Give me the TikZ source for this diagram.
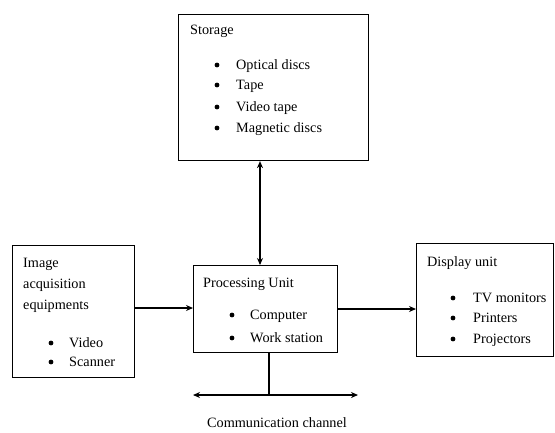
\documentclass[tikz,border=0pt]{standalone}
\usepackage{fontspec}
\setmainfont{Liberation Serif}
\usetikzlibrary{arrows.meta}
\begin{document}
\begin{tikzpicture}[x=1bp,y=-1bp,
  box/.style={draw,line width=1.1bp,inner sep=0pt,anchor=north west},
  txt/.style={anchor=base west,inner sep=0pt,font=\fontsize{14.3}{17}\selectfont},
  bul/.style={circle,fill,inner sep=0pt,minimum size=4.8bp},
  conn/.style={line width=1.1bp,-{Stealth[length=7bp,width=6bp]}},
  dconn/.style={line width=1.1bp,{Stealth[length=7bp,width=6bp]}-{Stealth[length=7bp,width=6bp]}}]
\useasboundingbox (0,0) rectangle (555,432);
% boxes
\node[box,minimum width=190bp,minimum height=146bp] (st) at (178,14) {};
\node[box,minimum width=122bp,minimum height=132bp] (im) at (12,245) {};
\node[box,minimum width=144bp,minimum height=87bp] (pu) at (193,265) {};
\node[box,minimum width=137bp,minimum height=113bp] (du) at (416,243) {};
% storage texts
\node[txt] (st0) at (190,34) {Storage};
\node[bul] (sb1) at (217,65) {}; \node[txt] (st1) at (236,69) {Optical discs};
\node[bul] (sb2) at (217,85) {}; \node[txt] (st2) at (236,89) {Tape};
\node[bul] (sb3) at (217,107) {}; \node[txt] (st3) at (236,111) {Video tape};
\node[bul] (sb4) at (217,128) {}; \node[txt] (st4) at (236,132) {Magnetic discs};
% image texts
\node[txt] (im0) at (23,267) {Image};
\node[txt] (im1) at (23,288) {acquisition};
\node[txt] (im2) at (23,309) {equipments};
\node[bul] (ib1) at (51,343) {}; \node[txt] (im3) at (69,347) {Video};
\node[bul] (ib2) at (51,362) {}; \node[txt] (im4) at (69,366) {Scanner};
% processing texts
\node[txt] (pu0) at (203,287) {Processing Unit};
\node[bul] (pb1) at (232,315) {}; \node[txt] (pu1) at (250,319) {Computer};
\node[bul] (pb2) at (232,338) {}; \node[txt] (pu2) at (250,342) {Work station};
% display texts
\node[txt] (du0) at (427,266) {Display unit};
\node[bul] (db1) at (453,298) {}; \node[txt] (du1) at (473,302) {TV monitors};
\node[bul] (db2) at (453,318) {}; \node[txt] (du2) at (473,322) {Printers};
\node[bul] (db3) at (453,339) {}; \node[txt] (du3) at (473,343) {Projectors};
% communication
\coordinate (cj) at (269,395);
\coordinate (cl) at (193,395);
\coordinate (cr) at (358,395);
\node[anchor=base,inner sep=0pt,font=\fontsize{14.3}{17}\selectfont] (cc) at (277,427) {Communication channel};
% connectors
\draw[dconn] (st.south -| 260,0) -- (pu.north -| 260,0);
\draw[conn] (im.east |- 0,308) -- (pu.west |- 0,308);
\draw[conn] (pu.east |- 0,309) -- (du.west |- 0,309);
\draw[line width=1.1bp] (pu.south -| cj) -- (cj);
\draw[dconn] (cl) -- (cr);
\end{tikzpicture}
\end{document}
